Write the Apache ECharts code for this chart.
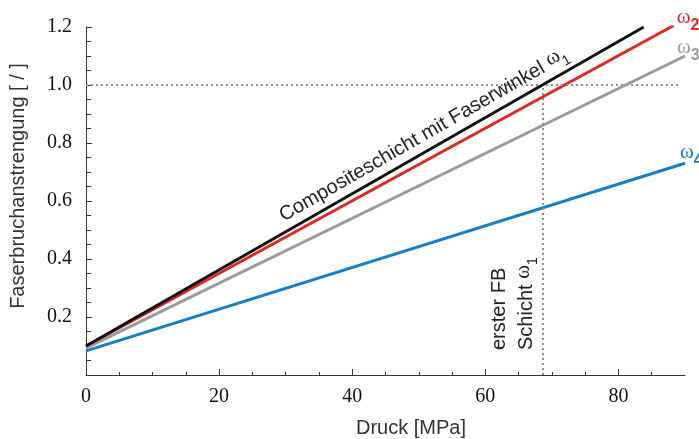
<!DOCTYPE html>
<html><head><meta charset="utf-8">
<script src="https://cdn.jsdelivr.net/npm/echarts@6/dist/echarts.min.js"></script>
<style>html,body{margin:0;padding:0;background:#fff}#c{width:699px;height:439px}</style>
</head><body><div id="c"></div>
<script>
// ---- data ----
const xTickLabels = [0, 20, 40, 60, 80];
const yTickLabels = [0.2, 0.4, 0.6, 0.8, 1.0, 1.2];
const seriesNames = ['ω1', 'ω2', 'ω3', 'ω4'];
const seriesSub = ['1', '2', '3', '4'];
const pressureStart = [0, 0, 0, 0];
const strainStart = [0.10, 0.10, 0.093, 0.083];
const pressureEnd = [83.8, 88.3, 90, 90];
const strainEnd = [1.2, 1.205, 1.10, 0.73];
const firstFailurePressure = 68.7;
const failureLimit = 1.0;
const limitLineEnd = 89.2;

// ---- styles ----
const colors = ['#111111', '#e2271f', '#9a9a9a', '#1680c6'];
const endOffsets = [[0, 0], [3, -5], [-8, -6], [-5, -8]];
const SERIF = '"Liberation Serif", "Times New Roman", serif';
const SANS = '"Liberation Sans", Arial, sans-serif';

const chart = echarts.init(document.getElementById('c'));

const series = seriesNames.map((name, i) => {
  const s = {
    name: name,
    type: 'line',
    data: [[pressureStart[i], strainStart[i]], [pressureEnd[i], strainEnd[i]]],
    showSymbol: false,
    symbol: 'none',
    lineStyle: { color: colors[i], width: 3 },
    itemStyle: { color: colors[i] },
    z: 5 - i,
    silent: true
  };
  if (i > 0) {
    s.endLabel = {
      show: true,
      formatter: '{w|ω}{s|' + seriesSub[i] + '}',
      distance: 0,
      offset: endOffsets[i],
      rich: {
        w: { fontFamily: SERIF, fontSize: 21, color: colors[i], padding: [0, 0, 6, 0], verticalAlign: 'top' },
        s: { fontFamily: SANS, fontSize: 16, fontWeight: 'bold', color: colors[i], verticalAlign: 'bottom' }
      }
    };
  }
  return s;
});

series.push({
  type: 'line',
  data: [],
  silent: true,
  z: 1,
  markLine: {
    silent: true,
    symbol: 'none',
    label: { show: false },
    lineStyle: { color: '#8f8f8f', width: 2, type: [2, 3] },
    data: [
      [{ coord: [0, failureLimit] }, { coord: [limitLineEnd, failureLimit] }],
      [{ coord: [firstFailurePressure, 0] }, { coord: [firstFailurePressure, failureLimit] }]
    ]
  }
});

chart.setOption({
  animation: false,
  backgroundColor: '#fff',
  grid: { left: 86, right: 14, top: 27, bottom: 64, containLabel: false },
  xAxis: {
    type: 'value', min: 0, max: 90, interval: 20,
    axisLine: { show: true, lineStyle: { color: '#333', width: 1 } },
    axisTick: { show: true, inside: true, length: 6, customValues: xTickLabels, lineStyle: { color: '#333' } },
    minorTick: { show: true, splitNumber: 4, length: 3, lineStyle: { color: '#333' } },
    splitLine: { show: false },
    axisLabel: { customValues: xTickLabels, fontFamily: SERIF, fontSize: 20, color: '#111', margin: 12 }
  },
  yAxis: {
    type: 'value', min: 0, max: 1.2, interval: 0.2,
    axisLine: { show: true, lineStyle: { color: '#333', width: 1 } },
    axisTick: { show: true, inside: true, length: 6, lineStyle: { color: '#333' } },
    minorTick: { show: true, splitNumber: 4, length: 5, lineStyle: { color: '#333' } },
    splitLine: { show: false },
    axisLabel: { customValues: yTickLabels, formatter: v => v.toFixed(1), fontFamily: SERIF, fontSize: 20, color: '#111', margin: 14 }
  },
  graphic: [
    { type: 'text', x: 18, y: 186, rotation: Math.PI / 2,
      style: { text: 'Faserbruchanstrengung [ / ]', fontFamily: SANS, fontSize: 20, fill: '#333', align: 'center', verticalAlign: 'middle' } },
    { type: 'text', x: 411, y: 428,
      style: { text: 'Druck [MPa]', fontFamily: SANS, fontSize: 20, fill: '#333', align: 'center', verticalAlign: 'middle' } },
    { type: 'text', x: 424, y: 135, rotation: 0.52,
      style: { text: 'Compositeschicht mit Faserwinkel {w|ω}{s|1}', fontFamily: SANS, fontSize: 20, fill: '#222', align: 'center', verticalAlign: 'middle',
        rich: { w: { fontFamily: SERIF, fontSize: 21, fill: '#222', padding: [0, 0, 6, 0], verticalAlign: 'top' },
                s: { fontFamily: SANS, fontSize: 14, fill: '#222', verticalAlign: 'bottom' } } } },
    { type: 'text', x: 513, y: 350, rotation: Math.PI / 2,
      style: { text: 'erster FB\nSchicht {w|ω}{s|1}', fontFamily: SANS, fontSize: 20, fill: '#222', align: 'left', verticalAlign: 'middle', lineHeight: 27,
        rich: { w: { fontFamily: SERIF, fontSize: 21, fill: '#222', padding: [0, 0, 6, 0], verticalAlign: 'top' },
                s: { fontFamily: SANS, fontSize: 14, fill: '#222', verticalAlign: 'bottom' } } } }
  ],
  series: series
});
</script>
</body></html>
